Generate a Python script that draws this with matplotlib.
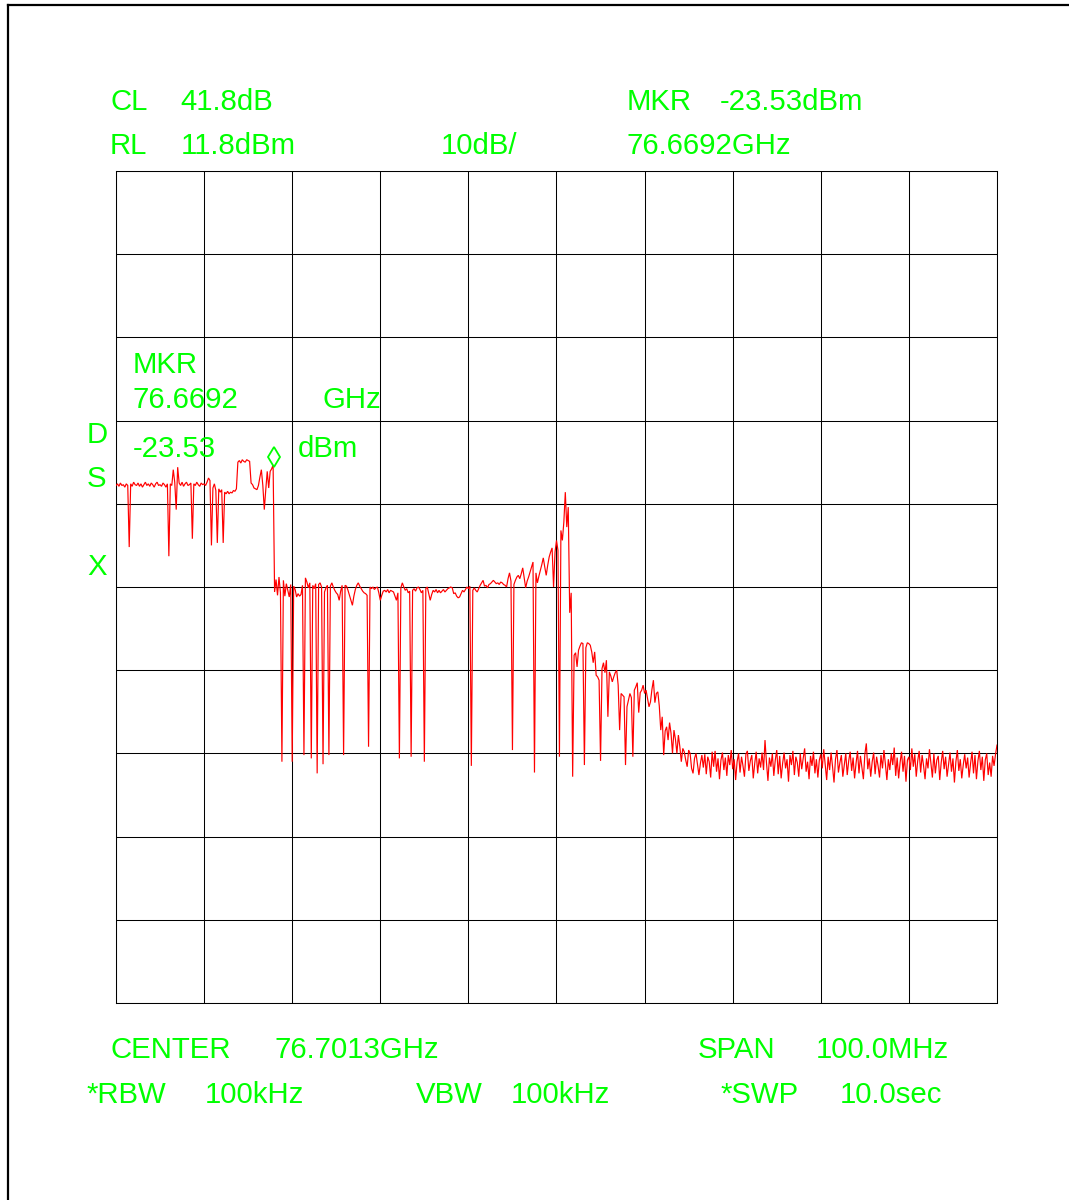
import numpy as np
import matplotlib
matplotlib.use("Agg")
import matplotlib.pyplot as plt
import matplotlib.transforms as mtransforms
from matplotlib.lines import Line2D

plt.rcParams['font.family'] = ['Liberation Sans', 'DejaVu Sans']

# ---------------- data ----------------
center_ghz = 76.7013
span_mhz = 100.0
ref_level_dbm = 11.8
db_per_div = 10.0
conv_loss_db = 41.8
marker_freq_ghz = 76.6692
marker_level_dbm = -23.53

trace_dbm = [
    # 0-19
    -26.0, -25.8, -26.1, -25.7, -26.0, -25.9, -26.2, -25.8, -26.0, -33.4, -25.8, -26.1, -25.6, -25.9, -26.0, -25.7, -26.1, -25.8, -26.2, -25.9,
    # 20-39
    -25.6, -26.0, -25.8, -26.1, -25.7, -25.9, -26.2, -25.8, -25.6, -26.0, -25.9, -26.1, -25.7, -25.9, -26.2, -25.8, -34.5, -25.8, -26.0, -24.1,
    # 40-59
    -25.6, -28.9, -23.8, -25.7, -26.0, -25.6, -26.1, -25.8, -25.6, -26.0, -25.9, -25.7, -32.4, -25.8, -26.0, -25.6, -25.9, -26.1, -25.7, -25.9,
    # 60-79
    -25.8, -26.0, -25.6, -25.1, -25.4, -33.2, -26.3, -25.8, -26.6, -32.9, -26.4, -26.8, -26.5, -32.9, -26.8, -27.0, -26.7, -27.0, -26.8, -26.9,
    # 80-99
    -26.6, -26.7, -26.4, -23.2, -23.0, -23.3, -22.9, -23.1, -23.2, -22.9, -23.0, -23.1, -25.7, -25.9, -26.3, -26.4, -26.5, -26.0, -25.0, -24.1,
    # 100-119
    -26.0, -28.9, -26.5, -24.3, -26.3, -24.3, -24.0, -23.53, -38.8, -37.3, -39.2, -37.0, -38.9, -59.2, -37.4, -39.3, -37.8, -38.6, -39.4, -37.9,
    # 120-139
    -59.2, -38.1, -38.5, -39.4, -39.0, -39.3, -39.1, -38.0, -58.4, -37.1, -37.6, -38.3, -37.7, -58.8, -38.0, -38.4, -37.8, -60.6, -37.9, -37.7,
    # 140-159
    -38.2, -59.5, -38.8, -38.3, -38.0, -58.4, -38.1, -37.7, -38.2, -38.6, -38.9, -39.1, -39.8, -38.7, -38.0, -58.4, -38.0, -38.1, -38.6, -39.2,
    # 160-179
    -39.8, -40.4, -39.3, -38.5, -38.0, -37.7, -38.1, -38.4, -38.7, -38.9, -39.0, -39.2, -57.4, -38.2, -38.4, -38.2, -38.5, -38.3, -38.2, -38.9,
    # 180-199
    -39.8, -39.2, -38.7, -38.6, -38.8, -38.5, -38.9, -38.6, -38.7, -38.8, -39.3, -39.8, -38.9, -58.8, -38.3, -37.7, -38.2, -38.6, -38.4, -38.9,
    # 200-219
    -38.7, -58.6, -38.6, -38.4, -38.7, -38.3, -38.2, -38.5, -38.9, -38.6, -59.2, -38.4, -38.2, -39.0, -39.8, -39.1, -38.6, -38.8, -38.5, -38.9,
    # 220-239
    -38.6, -38.9, -38.7, -38.5, -38.8, -38.6, -38.4, -38.3, -38.2, -38.3, -39.0, -38.9, -39.3, -39.5, -39.4, -39.0, -38.6, -38.8, -38.5, -38.2,
    # 240-259
    -38.4, -38.1, -59.7, -38.6, -38.3, -38.6, -38.8, -38.4, -38.0, -37.7, -37.4, -38.1, -38.0, -38.3, -37.9, -37.8, -37.6, -37.4, -37.6, -37.8,
    # 260-279
    -37.7, -37.9, -37.6, -37.7, -37.9, -38.0, -38.2, -37.2, -36.5, -37.5, -57.8, -37.9, -37.4, -37.0, -36.8, -37.2, -36.6, -35.9, -37.1, -38.3,
    # 280-299
    -37.5, -37.0, -36.4, -35.8, -35.2, -60.5, -36.5, -37.7, -36.9, -36.2, -35.5, -34.7, -35.8, -36.8, -35.6, -34.6, -34.0, -33.5, -38.2, -34.0,
    # 300-319
    -32.6, -33.8, -58.6, -31.4, -32.6, -30.4, -26.8, -31.0, -28.6, -41.3, -38.9, -61.0, -46.4, -46.1, -47.8, -45.8, -45.3, -44.9, -45.0, -59.6,
    # 320-339
    -45.5, -44.9, -45.0, -45.2, -46.0, -47.3, -46.0, -48.8, -49.0, -49.4, -59.1, -48.0, -47.3, -48.5, -47.0, -53.8, -48.4, -48.9, -49.6, -49.0,
    # 340-359
    -48.5, -48.2, -50.0, -55.4, -51.0, -51.2, -51.4, -59.6, -52.6, -51.8, -51.0, -51.5, -58.6, -50.6, -50.2, -49.7, -53.3, -50.9, -50.6, -50.0,
    # 360-379
    -51.0, -50.6, -51.6, -52.6, -52.0, -50.5, -49.4, -52.1, -51.0, -50.8, -52.5, -55.4, -53.8, -58.4, -55.5, -55.0, -56.6, -54.5, -55.8, -58.2,
    # 380-399
    -55.4, -56.5, -58.2, -56.0, -57.4, -59.2, -57.6, -58.0, -59.0, -59.8, -57.8, -58.2, -60.0, -60.6, -58.8, -58.2, -59.5, -60.8, -59.4, -58.4,
    # 400-419
    -59.9, -58.3, -60.7, -58.6, -59.2, -61.1, -58.0, -59.8, -57.9, -60.4, -58.8, -61.3, -59.0, -58.1, -60.2, -58.7, -60.9, -58.4, -59.6, -57.8,
    # 420-439
    -60.1, -58.9, -61.4, -59.2, -58.2, -60.5, -58.6, -59.7, -61.0, -58.3, -57.9, -60.3, -59.1, -58.4, -61.2, -59.4, -58.0, -60.6, -58.8, -59.9,
    # 440-459
    -58.1, -60.2, -56.6, -59.3, -61.5, -58.7, -59.8, -58.2, -60.9, -59.0, -57.8, -60.7, -58.5, -61.2, -59.4, -58.1, -60.0, -58.9, -61.6, -58.4,
    # 460-479
    -59.6, -57.9, -60.8, -58.6, -59.3, -61.0, -58.2, -60.1, -58.8, -57.6, -60.4, -59.2, -61.3, -58.5, -59.7, -58.0, -60.6, -58.9, -61.1, -59.0,
    # 480-499
    -58.3, -60.0, -57.7, -59.5, -61.4, -58.6, -60.2, -58.1, -59.8, -61.7, -58.9, -57.8, -60.5, -59.3, -58.4, -61.0, -59.6, -58.2, -60.8, -59.1,
    # 500-519
    -58.0, -60.3, -58.7, -61.2, -59.4, -57.9, -60.6, -58.5, -59.9, -61.3, -58.3, -57.0, -60.1, -58.8, -61.0, -59.2, -58.1, -60.7, -58.6, -59.7,
    # 520-539
    -61.1, -58.4, -60.0, -57.8, -59.5, -61.4, -58.9, -60.2, -58.2, -59.6, -57.5, -60.9, -58.7, -61.2, -59.3, -58.0, -60.4, -58.5, -61.6, -59.0,
    # 540-559
    -58.6, -60.2, -57.6, -59.8, -58.3, -61.0, -59.1, -57.9, -60.5, -58.4, -59.7, -61.3, -58.8, -60.0, -57.7, -59.4, -61.1, -58.2, -60.6, -59.0,
    # 560-579
    -58.5, -61.4, -59.3, -57.9, -60.1, -58.6, -61.0, -59.5, -58.1, -60.4, -58.8, -61.7, -59.2, -57.8, -60.3, -58.9, -61.2, -59.6, -58.3, -60.0,
    # 580-599
    -58.7, -61.1, -59.4, -58.0, -60.6, -58.4, -61.3, -59.1, -57.9, -60.2, -58.6, -61.5, -59.0, -58.2, -60.8, -59.3, -61.0, -58.5, -59.7, -58.3,
    # 600
    -57.2,
]

top_labels = [("CL", 110, 110), ("41.8dB", 180, 110),
              ("RL", 110, 154), ("11.8dBm", 181, 154),
              ("10dB/", 441, 154),
              ("MKR", 627, 110), ("-23.53dBm", 720, 110),
              ("76.6692GHz", 627, 154)]
inner_labels = [("MKR", 133, 373), ("76.6692", 133, 408), ("GHz", 322, 408),
                ("-23.53", 133, 457), ("dBm", 298, 457),
                ("D", 87, 443), ("S", 87, 487), ("X", 87, 575)]
bottom_labels = [("CENTER", 110, 1058), ("76.7013GHz", 274, 1058),
                 ("SPAN", 698, 1058), ("100.0MHz", 816, 1058),
                 ("*RBW", 87, 1103), ("100kHz", 205, 1103),
                 ("VBW", 416, 1103), ("100kHz", 511, 1103),
                 ("*SWP", 721, 1103), ("10.0sec", 840, 1103)]

# ---------------- figure ----------------
W, H = 1069, 1200
fig = plt.figure(figsize=(W / 100, H / 100), dpi=100)
fig.patch.set_facecolor("white")

ax_l, ax_r, ax_t, ax_b = 116, 997, 171, 1003
ax = fig.add_axes([ax_l / W, 1 - ax_b / H, (ax_r - ax_l) / W, (ax_b - ax_t) / H])

f_start = center_ghz - span_mhz / 2000.0
f_stop = center_ghz + span_mhz / 2000.0
y_top = ref_level_dbm
y_bot = ref_level_dbm - 10 * db_per_div

freq = np.linspace(f_start, f_stop, len(trace_dbm))
ax.plot(freq, trace_dbm, color="#ff0000", lw=0.85, solid_joinstyle="miter", zorder=3)

ax.set_xlim(f_start, f_stop)
ax.set_ylim(y_bot, y_top)
ax.set_xticks(np.linspace(f_start, f_stop, 11))
ax.set_yticks(np.linspace(y_bot, y_top, 11))
ax.tick_params(length=0, labelbottom=False, labelleft=False)
ax.grid(True, color="black", lw=0.75)
for s in ax.spines.values():
    s.set_color("black")
    s.set_linewidth(0.75)

# marker diamond sits just above the trace point
mk_trans = mtransforms.offset_copy(ax.transData, fig=fig, x=0, y=8, units="dots")
ax.plot([marker_freq_ghz], [marker_level_dbm], marker="d", ms=10, mfc="none",
        mec="#00ff00", mew=1.3, transform=mk_trans, zorder=4, clip_on=False)

green = "#00ff00"
for s, x, y in top_labels + inner_labels + bottom_labels:
    fig.text(x / W, 1 - y / H, s, color=green, fontsize=21.2, ha="left", va="baseline")

# page border (top and left)
fig.add_artist(Line2D([8 / W, 1.0], [1 - 5 / H, 1 - 5 / H], color="black", lw=1.6))
fig.add_artist(Line2D([8 / W, 8 / W], [1 - 5 / H, 0.0], color="black", lw=1.6))

fig.savefig("out.png", dpi=100, facecolor="white")
